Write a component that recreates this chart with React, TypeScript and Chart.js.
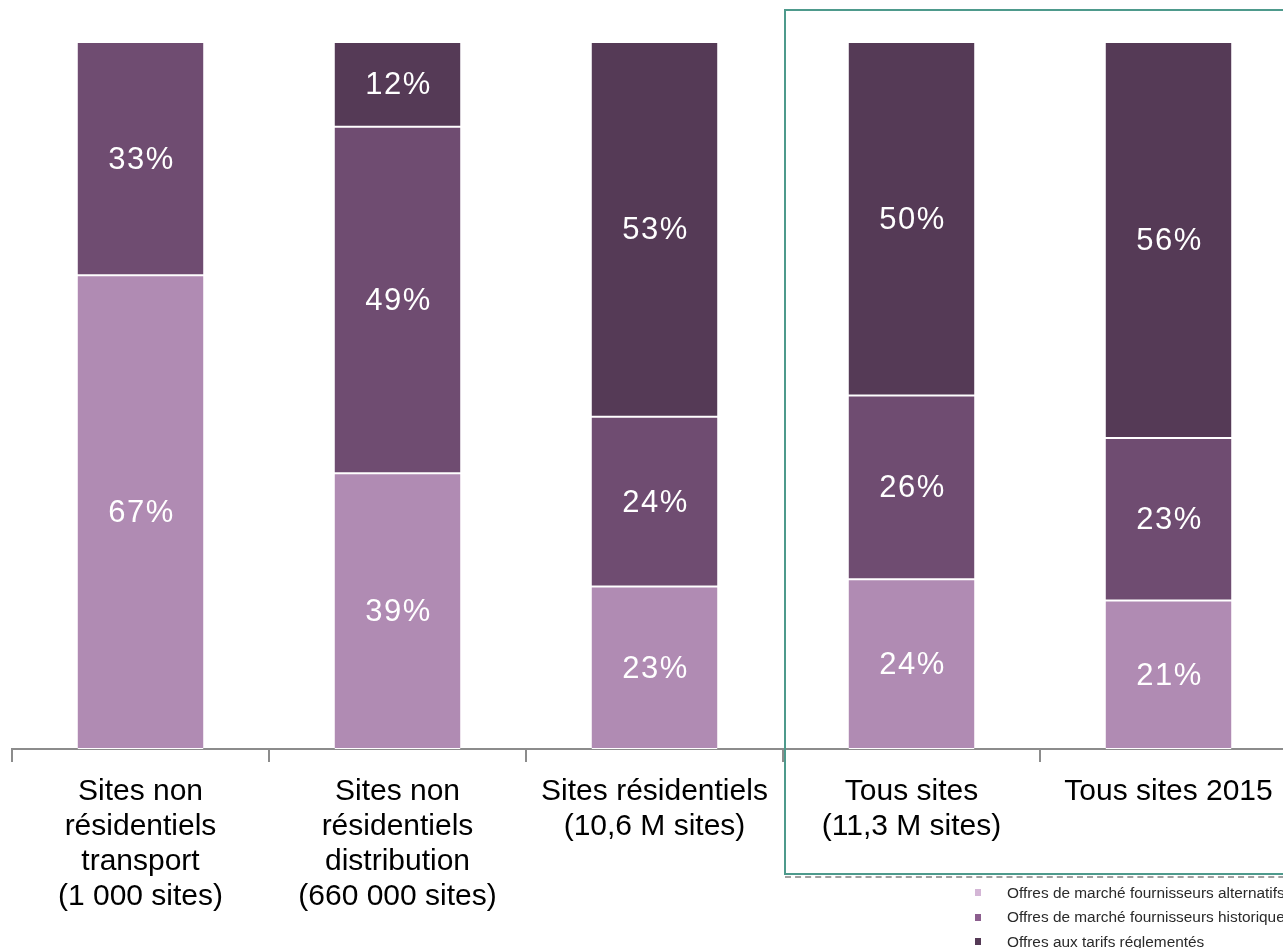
import React, { useEffect, useRef } from "react";
import { Chart, registerables } from "chart.js";

Chart.register(...registerables);

const categories: string[][] = [
  ["Sites non", "résidentiels", "transport", "(1 000 sites)"],
  ["Sites non", "résidentiels", "distribution", "(660 000 sites)"],
  ["Sites résidentiels", "(10,6 M sites)"],
  ["Tous sites", "(11,3 M sites)"],
  ["Tous sites 2015"],
];

const seriesNames = [
  "Offres de marché fournisseurs alternatifs",
  "Offres de marché fournisseurs historiques",
  "Offres aux tarifs réglementés",
];

const alternatifs = [67, 39, 23, 24, 21];
const historiques = [33, 49, 24, 26, 23];
const reglementes = [0, 12, 53, 50, 56];

const barColors = ["#B08BB3", "#6F4C71", "#553A56"];
const legendColors = ["#D4B6D6", "#8C5E8E", "#553A56"];

const labelPlugin = {
  id: "segLabels",
  afterDatasetsDraw(chart: any) {
    const ctx = chart.ctx;
    ctx.save();
    ctx.fillStyle = "#FFFFFF";
    ctx.font = "31px 'Liberation Sans', Arial, sans-serif";
    (ctx as any).letterSpacing = "1.5px";
    ctx.textAlign = "center";
    ctx.textBaseline = "middle";
    chart.data.datasets.forEach((ds: any, di: number) => {
      const meta = chart.getDatasetMeta(di);
      meta.data.forEach((bar: any, i: number) => {
        const v = ds.data[i];
        if (!v) return;
        const { x, y, base } = bar.getProps(["x", "y", "base"], true);
        ctx.fillText(v + "%", x + 1, (y + base) / 2 + 1.5);
      });
    });
    ctx.restore();
  },
};

export default function App() {
  const ref = useRef<HTMLCanvasElement>(null);
  useEffect(() => {
    if (!ref.current) return;
    const mk = (label: string, data: number[], color: string) => ({
      label,
      data,
      backgroundColor: color,
      borderColor: "#FFFFFF",
      borderWidth: { top: 1, bottom: 1, left: 0, right: 0 },
      borderSkipped: false,
      barPercentage: 0.49,
      categoryPercentage: 1,
    });
    const chart = new Chart(ref.current, {
      type: "bar",
      data: {
        labels: categories,
        datasets: [
          mk(seriesNames[0], alternatifs, barColors[0]),
          mk(seriesNames[1], historiques, barColors[1]),
          mk(seriesNames[2], reglementes, barColors[2]),
        ],
      },
      options: {
        responsive: false,
        animation: false,
        layout: { padding: { left: 12, right: 3, top: 42, bottom: 0 } },
        plugins: { legend: { display: false }, tooltip: { enabled: false } },
        scales: {
          x: {
            stacked: true,
            afterFit: (s: any) => {
              s.height = 199;
            },
            grid: {
              display: true,
              offset: true,
              drawOnChartArea: false,
              drawTicks: true,
              tickLength: 13,
              color: "#8C8C8C",
              lineWidth: 2,
            },
            border: { display: true, color: "#8C8C8C", width: 2 },
            ticks: {
              color: "#000000",
              padding: 12,
              maxRotation: 0,
              autoSkip: false,
              font: { family: "'Liberation Sans', Arial, sans-serif", size: 30, lineHeight: 1.17 },
            },
          },
          y: {
            stacked: true,
            display: false,
            min: 0,
            max: 100,
          },
        },
      },
      plugins: [labelPlugin],
    });
    return () => chart.destroy();
  }, []);

  return (
    <div
      style={{
        position: "fixed",
        left: 0,
        top: 0,
        width: 1283,
        height: 948,
        overflow: "hidden",
        background: "#FFFFFF",
      }}
    >
      <canvas ref={ref} width={1300} height={948} style={{ width: 1300, height: 948, display: "block" }} />
      <div
        style={{
          position: "absolute",
          left: 784,
          top: 9,
          width: 600,
          height: 862,
          border: "2px solid #4E9A8C",
          boxSizing: "content-box",
          pointerEvents: "none",
        }}
      />
      <div
        style={{
          position: "absolute",
          left: 785,
          top: 876,
          width: 600,
          borderTop: "2px dashed #A0A0A0",
        }}
      />
      <div
        style={{
          position: "absolute",
          left: 975,
          top: 880.5,
          fontFamily: "'Liberation Sans', Arial, sans-serif",
          fontSize: 15.4,
          color: "#2A2A2A",
          whiteSpace: "nowrap",
        }}
      >
        {seriesNames.map((n, i) => (
          <div key={n} style={{ height: 24.5, display: "flex", alignItems: "center" }}>
            <span
              style={{
                display: "inline-block",
                width: 6,
                height: 7,
                background: legendColors[i],
                marginRight: 26,
              }}
            />
            {n}
          </div>
        ))}
      </div>
    </div>
  );
}
